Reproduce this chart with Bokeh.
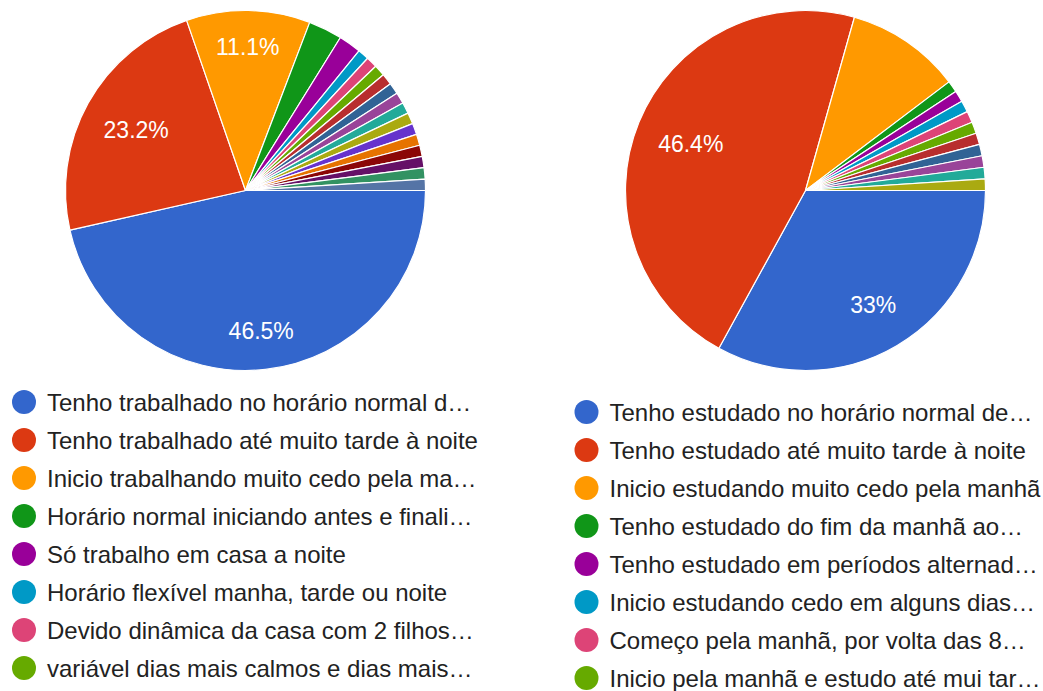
import numpy as np
from bokeh.plotting import figure
from bokeh.models import Range1d, ColumnDataSource
from bokeh.transform import cumsum
from bokeh.embed import file_html
from bokeh.resources import INLINE
from bokeh.core.properties import value

# ---------------- data ----------------
palette = ["#3366cc", "#dc3912", "#ff9900", "#109618", "#990099", "#0099c6",
           "#dd4477", "#66aa00", "#b82e2e", "#316395", "#994499", "#22aa99",
           "#aaaa11", "#6633cc", "#e67300", "#8b0707", "#651067", "#329262",
           "#5574a6", "#3b3eac"]

# Work schedule (99 responses) - slice counts
work_values = [46, 23, 11, 3, 2, 1, 1, 1, 1, 1, 1, 1, 1, 1, 1, 1, 1, 1, 1]
work_legend = [
    "Tenho trabalhado no horário normal d…",
    "Tenho trabalhado até muito tarde à noite",
    "Inicio trabalhando muito cedo pela ma…",
    "Horário normal iniciando antes e finali…",
    "Só trabalho em casa a noite",
    "Horário flexível manha, tarde ou noite",
    "Devido dinâmica da casa com 2 filhos…",
    "variável dias mais calmos e dias mais…",
]

# Study schedule (97 responses) - slice counts
study_values = [32, 45, 10, 1, 1, 1, 1, 1, 1, 1, 1, 1, 1]
study_legend = [
    "Tenho estudado no horário normal de…",
    "Tenho estudado até muito tarde à noite",
    "Inicio estudando muito cedo pela manhã",
    "Tenho estudado do fim da manhã ao…",
    "Tenho estudado em períodos alternad…",
    "Inicio estudando cedo em alguns dias…",
    "Começo pela manhã, por volta das 8…",
    "Inicio pela manhã e estudo até mui tar…",
]

# ---------------- layout ----------------
PW, PH = 1043, 691
R = 180
LABEL_MIN_PCT = 11.0

def Y(img_y):
    return PH - img_y

p = figure(width=PW, height=PH, output_backend="svg", toolbar_location=None,
           x_range=Range1d(0, PW), y_range=Range1d(0, PH), min_border=0)
p.axis.visible = False
p.grid.visible = False
p.outline_line_color = None
p.background_fill_color = "white"
p.border_fill_color = "white"

def fmt(pct):
    s = f"{pct:.1f}"
    if s.endswith(".0"):
        s = s[:-2]
    return s + "%"

def draw_pie(values, legend, cx, cy, leg_x, leg_y0, leg_dy):
    vals = np.array(values, dtype=float)
    total = vals.sum()
    frac = vals / total
    ang = -frac * 2 * np.pi
    n = len(vals)
    src = ColumnDataSource(dict(angle=ang, color=palette[:n]))
    p.wedge(x=cx, y=Y(cy), radius=R, start_angle=cumsum("angle", include_zero=True),
            end_angle=cumsum("angle"), direction="clock", fill_color="color",
            line_color="white", line_width=1.2, source=src)
    # percentage labels
    cum = np.concatenate([[0], np.cumsum(frac)])
    lx, ly, lt = [], [], []
    for i in range(n):
        pct = frac[i] * 100
        if pct < LABEL_MIN_PCT:
            continue
        mid = -(cum[i] + cum[i + 1]) / 2 * 2 * np.pi
        rr = R * (0.80 - 0.12 * abs(np.cos(mid)))
        lx.append(cx + rr * np.cos(mid))
        ly.append(Y(cy) + rr * np.sin(mid))
        lt.append(fmt(pct))
    p.text(x=lx, y=ly, text=lt, text_color="white", text_font=value("Liberation Sans"),
           text_font_size="23px", text_align="center", text_baseline="middle")
    # legend
    k = len(legend)
    ys = [Y(leg_y0 + i * leg_dy) for i in range(k)]
    p.scatter(x=[leg_x] * k, y=ys, marker="circle", size=24, fill_color=palette[:k],
              line_color=None)
    p.text(x=[leg_x + 23] * k, y=ys, text=legend, text_color="#222222",
           text_font=value("Liberation Sans"), text_font_size="24px",
           text_align="left", text_baseline="middle")

draw_pie(work_values, work_legend, 245, 190, 23.5, 401.5, 38.0)
draw_pie(study_values, study_legend, 805, 190, 586, 411.5, 38.0)

open("out.html", "w").write(file_html(p, INLINE))
